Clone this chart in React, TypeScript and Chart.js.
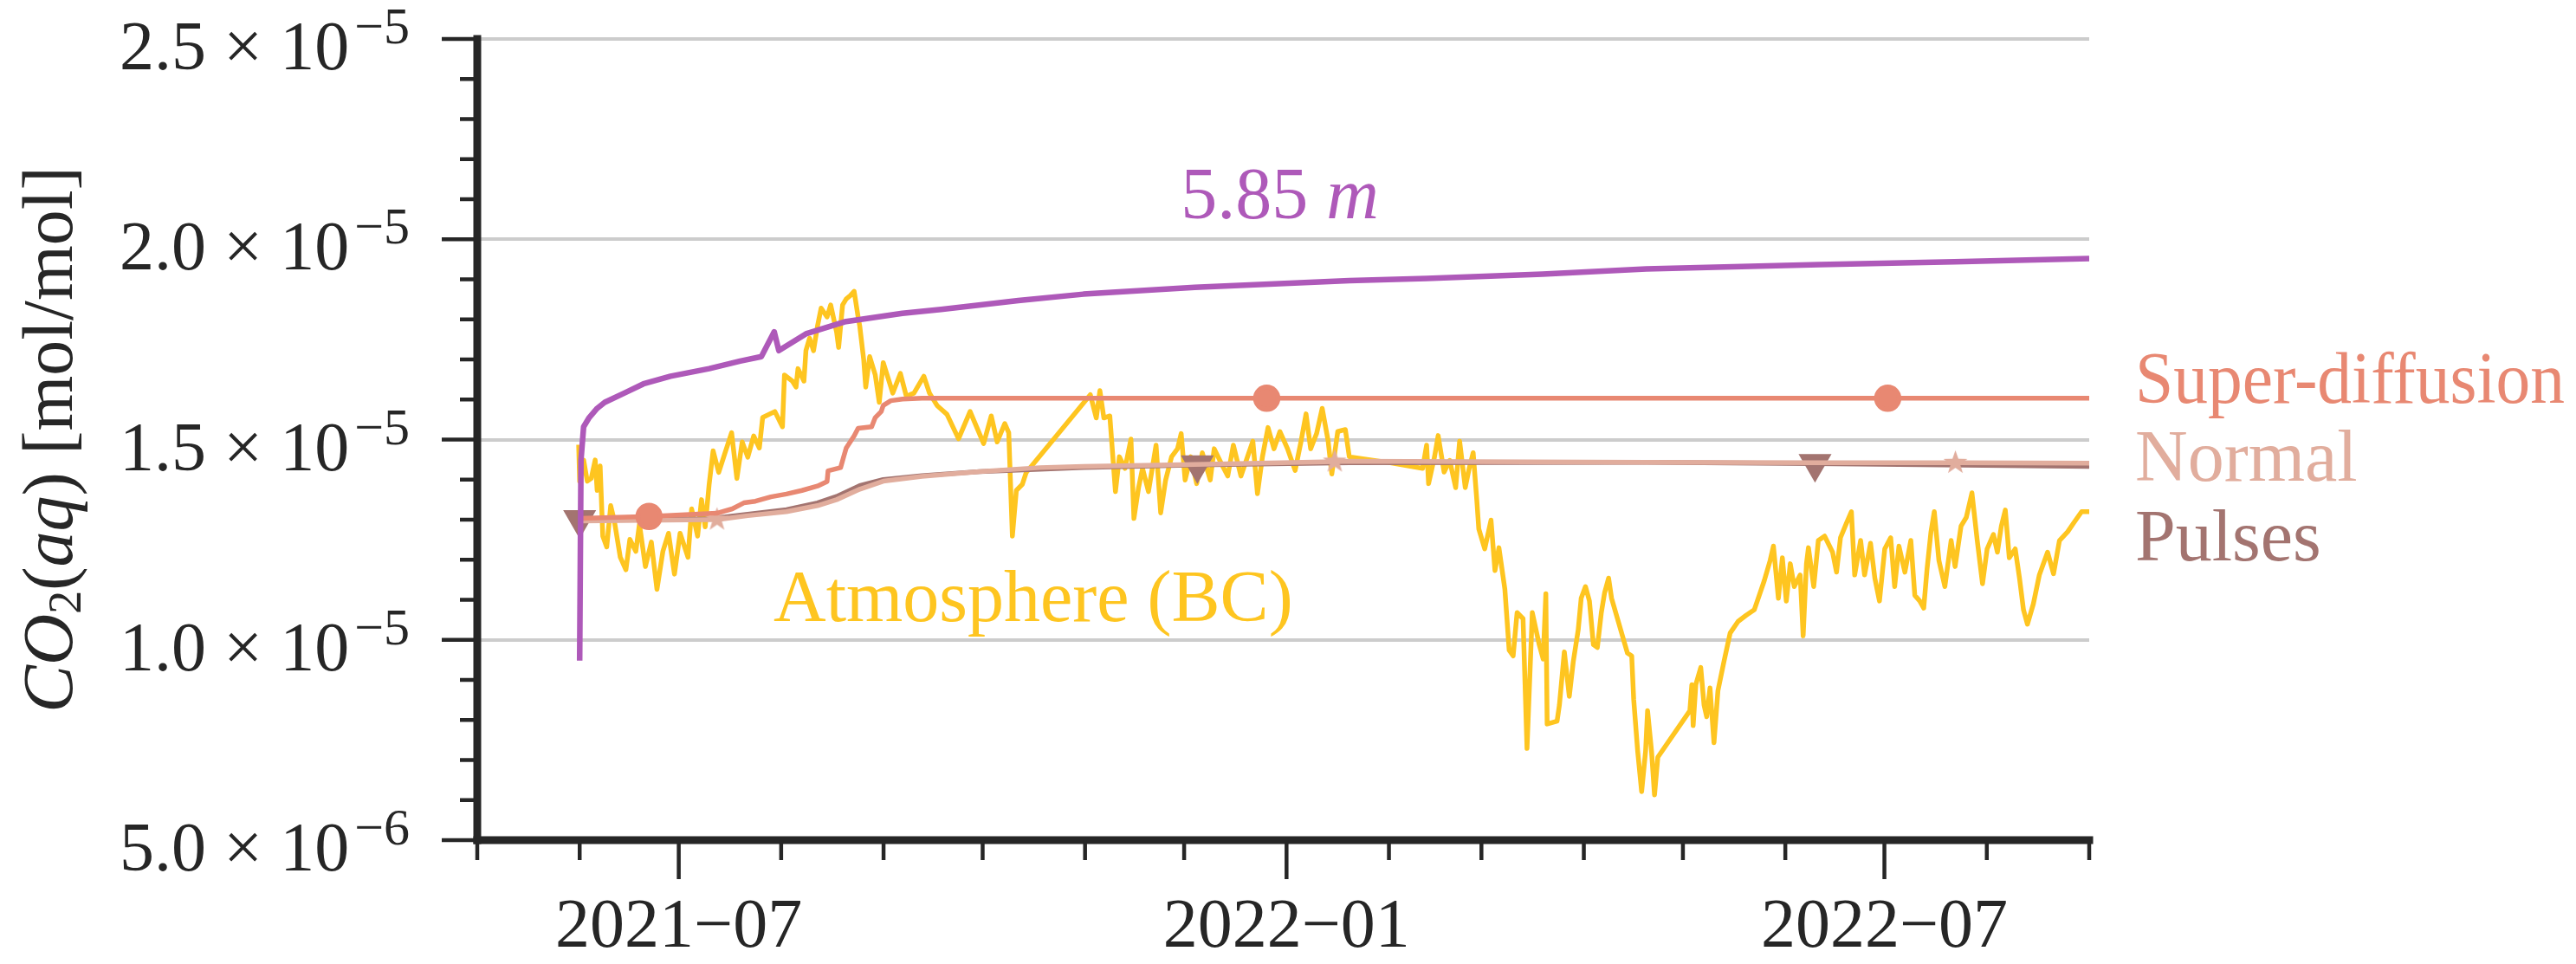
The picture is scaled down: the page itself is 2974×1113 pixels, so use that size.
import React, { useEffect, useRef } from 'react';
import { Chart, registerables } from 'chart.js';

Chart.register(...registerables);

// ---------------- data ----------------
// x values are days since ORIGIN; series values are in units of 1e-6 mol/mol
const ORIGIN = '2021-05-01';
const X_START = '2021-05-01';
const X_END = '2022-09-01';
const UNIT = 1e-6;

// 5.85 m depth series
const depthDays = [31, 31.4, 32.2, 33.9, 36.3, 38.6, 44.5, 50.3, 58.5, 70.2, 79.6, 86, 89.9, 91.3, 99.5, 111.2, 128.7, 140.4, 163.8, 183.5, 217.2, 264, 287.4, 322.5, 353.9, 406.3, 447.2, 488];
const depthVals = [9.48, 14.49, 15.32, 15.55, 15.78, 15.93, 16.16, 16.39, 16.58, 16.77, 16.96, 17.07, 17.69, 17.22, 17.64, 17.94, 18.15, 18.25, 18.47, 18.63, 18.8, 18.97, 19.02, 19.13, 19.26, 19.37, 19.44, 19.52];

// Super-diffusion
const superDays = [31, 52, 72.5, 77.2, 80.7, 84.2, 88.9, 93.6, 98.3, 103, 105.9, 106.2, 110, 110.9, 111.7, 114.1, 115.3, 119.4, 120.5, 122.3, 122.9, 125.2, 128.7, 134.6, 239, 427, 488];
const superVals = [13.03, 13.08, 13.16, 13.27, 13.42, 13.46, 13.57, 13.64, 13.73, 13.84, 13.95, 14.22, 14.3, 14.56, 14.79, 15.09, 15.28, 15.32, 15.55, 15.7, 15.85, 15.97, 16.01, 16.03, 16.03, 16.03, 16.03];
const superMarkers = [52, 239, 427];

// Normal
const normalDays = [31, 70.2, 72.6, 81.9, 93.6, 103, 108.8, 115.8, 122.9, 134.6, 152.1, 170.4, 183.5, 217.2, 259.6, 264, 353.9, 406, 447.5, 488];
const normalVals = [12.97, 13.0, 13.0, 13.1, 13.2, 13.35, 13.5, 13.76, 13.96, 14.08, 14.2, 14.3, 14.33, 14.38, 14.45, 14.46, 14.43, 14.42, 14.42, 14.41];
const normalMarkers = [72.6, 259.6, 447.5];

// Pulses
const pulsesDays = [31, 70.2, 93.6, 103, 108.8, 115.8, 122.9, 134.6, 152.1, 183.5, 218, 264, 354, 405, 488];
const pulsesVals = [13.0, 13.02, 13.25, 13.42, 13.58, 13.85, 14.0, 14.1, 14.2, 14.3, 14.37, 14.42, 14.43, 14.4, 14.33];
const pulsesMarkers = [31, 218, 405];

// Atmosphere (BC)
const atmDays = [
  30.7, 31, 32.2, 33.3, 34.5, 35.7, 36.3, 37.2, 38, 39.2, 40.4, 41.5, 43.3, 45, 46.2, 48, 49.1, 50.9, 52.7, 54.4,
  56.2, 57.9, 59.7, 61.4, 63.8, 64.9, 66.7, 67.9, 69, 70.2, 71.4, 73.1, 74.9, 77, 78.6, 80.2, 81.9, 83.7, 85.4, 86.4,
  90.1, 92.4, 93, 95.4, 96.5, 97.1, 98.9, 99.5, 100.6, 101.8, 103, 104.1, 105.9, 107, 108.8, 109.4, 110.6, 111.7, 112.9, 114.1,
  115.3, 115.8, 117, 117.6, 118.8, 120.5, 121.7, 122.9, 125.8, 128.1, 129.9, 132.2, 135.2, 136.9, 139.2, 142.2, 145.7, 149.2, 151.5, 153.3,
  155.6, 157.4, 159.7, 160.9, 162, 163.2, 165, 166.2,
  185.6, 187.4, 188.5, 189.7, 191.5, 193.2, 194.4, 196.1, 197.9, 198.8, 200.2, 201.4, 203.2, 205.5, 206.9, 208.4, 210.2, 212, 213.1, 214.3,
  216, 217.8, 219.5, 221.9, 223.1, 225.4, 227.2, 228.9, 231.2, 233.6, 234.8, 236.2, 237.7, 239.4, 241.2, 243, 245.3, 247.6, 249.4, 250.9,
  252.3, 254.1, 255.8, 257.6, 258.7, 260.5, 262.8, 264, 275.7, 286.2, 287.4, 288, 289.8, 290.9, 292.7, 294.4, 296.2, 297.4, 299.1, 300.3,
  301.5, 302.6, 303.2, 305, 306.9, 308.1, 309.3, 311.1, 312.4, 313.6, 314.8, 316.6, 317.8, 319.4, 321.5, 322.7, 323.5, 323.9, 326.9, 327.6,
  329.1, 330.6, 331.8, 333.3, 334.2, 335.5, 336.7, 337.9, 339.1, 340.3, 341.3, 342.5, 343.4, 348.2, 349.5, 350.1, 351.3, 352.5, 353.7, 354.3,
  355.5, 356.4, 357.4, 367.1, 367.7, 368.1, 368.9, 370.4, 371.4, 372.2, 373.2, 374.4, 375.6, 377.4, 379.3, 381.7, 384.1, 386.6, 388.4, 389.6,
  391.4, 392.4, 393.9, 395.1, 396.3, 397.5, 398.7, 400.5, 401.4, 402.4, 403, 404.6, 406, 407.9, 410.3, 411.5, 412.7, 414.5, 416, 417,
  418.8, 420, 421.8, 423.1, 424.5, 426.1, 427.9, 429.1, 430.4, 432.2, 434, 435.2, 436.7, 437.9, 438.9, 440.1, 441.1, 442.5, 444.3, 446.2,
  447.4, 449.2, 450.8, 452.5, 454.1, 455.7, 457.1, 459, 460.2, 461.4, 462.6, 463.8, 465.6, 466.9, 468.1, 469.3, 471.1, 472.9, 475.4, 477.2,
  479, 481.5, 483.3, 485.7, 488,
];
const atmVals = [
  14.87, 13.96, 14.49, 13.96, 14.03, 14.49, 13.73, 14.34, 12.59, 12.32, 13.35, 12.97, 12.06, 11.75, 12.51, 12.21, 12.89, 11.83, 12.44, 11.26,
  12.21, 12.66, 11.64, 12.66, 12.06, 13.27, 12.59, 13.5, 12.82, 13.88, 14.72, 14.18, 14.64, 15.17, 14.03, 14.94, 14.56, 15.09, 14.79, 15.55,
  15.7, 15.32, 16.61, 16.46, 16.31, 16.77, 16.46, 17.22, 17.53, 17.22, 17.83, 18.28, 18.06, 18.36, 17.68, 17.3, 18.36, 18.51, 18.59, 18.7,
  18.06, 17.83, 16.99, 16.31, 17.07, 16.61, 15.93, 16.92, 16.16, 16.65, 16.08, 16.16, 16.58, 16.16, 15.85, 15.63, 15.02, 15.7, 15.25, 14.9,
  15.59, 14.94, 15.4, 15.17, 12.59, 13.73, 13.88, 14.18,
  16.12, 15.54, 16.22, 15.54, 15.59, 13.7, 14.57, 14.28, 15.01, 13.03, 13.8, 14.28, 13.7, 14.86, 13.17, 13.99, 14.57, 14.77, 15.15, 13.99,
  14.57, 13.9, 14.67, 13.99, 14.77, 14.38, 14.09, 14.86, 14.09, 14.67, 14.96, 13.65, 14.57, 15.3, 14.77, 15.2, 14.77, 14.23, 14.96, 15.64,
  14.77, 15.15, 15.78, 14.96, 14.14, 15.2, 15.25, 14.57, 14.43, 14.28, 14.86, 13.9, 14.57, 15.1, 14.19, 14.48, 13.8, 14.96, 13.8, 14.28,
  14.67, 13.49, 12.77, 12.27, 12.99, 11.73, 12.3, 11.26, 9.74, 9.6, 10.68, 10.53, 7.29, 10.68, 9.88, 9.52, 11.15, 7.9, 7.97, 8.37,
  9.7, 8.59, 9.45, 10.25, 11.04, 11.33, 10.97, 9.88, 9.81, 10.68, 11.18, 11.54, 11.04, 9.67, 9.6, 8.51, 7.22, 6.21, 7.22, 8.23,
  7.22, 6.13, 7.07, 8.23, 8.88, 7.86, 8.88, 9.31, 8.37, 8.08, 8.8, 7.43, 8.73, 9.45, 10.17, 10.46, 10.61, 10.75, 11.18, 11.47,
  11.98, 12.34, 11.04, 12.05, 10.97, 11.9, 11.33, 11.62, 10.1, 11.9, 12.3, 11.33, 12.48, 12.59, 12.19, 11.69, 12.55, 12.91, 13.2, 11.62,
  12.48, 11.62, 12.41, 11.54, 10.97, 12.27, 12.55, 11.33, 12.34, 11.69, 12.48, 11.11, 10.97, 10.79, 11.76, 12.7, 13.2, 11.98, 11.33, 12.48,
  11.83, 12.84, 13.06, 13.67, 12.48, 11.4, 12.27, 12.63, 12.19, 12.84, 13.24, 12.05, 12.27, 11.54, 10.75, 10.39, 10.9, 11.62, 12.19, 11.65,
  12.48, 12.7, 12.92, 13.2, 13.2,
];

// axis ticks
const Y_MIN = 5e-6;
const Y_MAX = 2.5e-5;
const Y_MAJOR_STEP = 5e-6;
const Y_MINOR_STEP = 1e-6;
const yTickValues = [5e-6, 1e-5, 1.5e-5, 2e-5, 2.5e-5];
const yTickMantissa = ['5.0', '1.0', '1.5', '2.0', '2.5'];
const yTickExponent = ['\u22126', '\u22125', '\u22125', '\u22125', '\u22125'];
const xTickDates = ['2021-07-01', '2022-01-01', '2022-07-01'];
const xTickLabels = ['2021\u221207', '2022\u221201', '2022\u221207'];

// in-plot text labels (anchored in data coordinates: day, value in 1e-6)
const labelTexts = ['Super-diffusion', 'Normal', 'Pulses', 'Atmosphere (BC)'];
const labelDays = [501.9, 501.9, 501.9, 168.3];
const labelVals = [15.92, 13.97, 11.98, 10.47];
const depthLabel = { num: '5.85 ', unit: 'm', day: 243, val: 20.52 };

// ---------------- style ----------------
const W = 2974;
const H = 1113;
const INK = '#262626';
const GRID = '#cccccc';
const PURPLE = '#ae59b9';
const YELLOW = '#fec520';
const SUPER = '#e88872';
const NORMAL = '#e1ad9d';
const PULSES = '#a37470';
const FONT = '"Liberation Serif", "DejaVu Serif", serif';

const dayOf = (s: string) =>
  (Date.parse(s + 'T00:00:00Z') - Date.parse(ORIGIN + 'T00:00:00Z')) / 86400000;

const mk = (days: number[], vals: number[]) => days.map((d, i) => ({ x: d, y: vals[i] * UNIT }));

function makeStar(color: string, R: number, r: number) {
  const c = document.createElement('canvas');
  const s = Math.ceil(2 * R + 2);
  c.width = s;
  c.height = s;
  const g = c.getContext('2d')!;
  g.fillStyle = color;
  g.beginPath();
  for (let i = 0; i < 10; i++) {
    const rad = i % 2 === 0 ? R : r;
    const ang = -Math.PI / 2 + (i * Math.PI) / 5;
    g.lineTo(s / 2 + rad * Math.cos(ang), s / 2 + rad * Math.sin(ang));
  }
  g.closePath();
  g.fill();
  return c;
}

type Run = { t: string; font: string; dy?: number };
function drawRuns(
  ctx: CanvasRenderingContext2D,
  runs: Run[],
  x: number,
  y: number,
  align: 'left' | 'center' | 'right',
  maxWidth?: number
) {
  let total = 0;
  const widths = runs.map((r) => {
    ctx.font = r.font;
    const w = ctx.measureText(r.t).width;
    total += w;
    return w;
  });
  const k = maxWidth && total > maxWidth ? maxWidth / total : 1;
  const tw = total * k;
  let cx = align === 'left' ? x : align === 'center' ? x - tw / 2 : x - tw;
  ctx.textAlign = 'left';
  ctx.textBaseline = 'alphabetic';
  runs.forEach((r, i) => {
    ctx.font = r.font;
    if (k < 1) ctx.fillText(r.t, cx, y + (r.dy || 0), widths[i] * k);
    else ctx.fillText(r.t, cx, y + (r.dy || 0));
    cx += widths[i] * k;
  });
}

const decorPlugin = {
  id: 'decor',
  afterDraw(chart: any) {
    const ctx: CanvasRenderingContext2D = chart.ctx;
    const xs = chart.scales.x;
    const ys = chart.scales.y;
    const a = chart.chartArea;
    ctx.save();

    // spines
    ctx.strokeStyle = INK;
    ctx.lineWidth = 9;
    ctx.lineCap = 'square';
    ctx.beginPath();
    ctx.moveTo(a.left, a.bottom);
    ctx.lineTo(a.left, a.top);
    ctx.stroke();
    ctx.beginPath();
    ctx.moveTo(a.left, a.bottom);
    ctx.lineTo(a.right, a.bottom);
    ctx.stroke();

    // y ticks
    ctx.lineCap = 'butt';
    ctx.lineWidth = 4.5;
    const nY = Math.round((Y_MAX - Y_MIN) / Y_MINOR_STEP);
    const perMajor = Math.round(Y_MAJOR_STEP / Y_MINOR_STEP);
    for (let k = 0; k <= nY; k++) {
      const py = ys.getPixelForValue(Y_MIN + k * Y_MINOR_STEP);
      const len = k % perMajor === 0 ? 41 : 20;
      ctx.beginPath();
      ctx.moveTo(a.left, py);
      ctx.lineTo(a.left - len, py);
      ctx.stroke();
    }
    // x ticks (monthly minor, labelled majors)
    const majorDays = xTickDates.map(dayOf);
    const sd = new Date(X_START + 'T00:00:00Z');
    const endDay = dayOf(X_END);
    for (let m = 0; ; m++) {
      const d = new Date(Date.UTC(sd.getUTCFullYear(), sd.getUTCMonth() + m, 1));
      const iso = d.toISOString().slice(0, 10);
      const day = dayOf(iso);
      if (day > endDay + 0.01) break;
      const px = xs.getPixelForValue(day);
      const len = majorDays.some((md) => Math.abs(md - day) < 0.01) ? 45 : 23;
      ctx.beginPath();
      ctx.moveTo(px, a.bottom);
      ctx.lineTo(px, a.bottom + len);
      ctx.stroke();
    }

    ctx.fillStyle = INK;
    // x tick labels
    ctx.font = `80px ${FONT}`;
    ctx.textAlign = 'center';
    ctx.textBaseline = 'alphabetic';
    xTickDates.forEach((d, i) => {
      ctx.fillText(xTickLabels[i], xs.getPixelForValue(dayOf(d)), a.bottom + 123);
    });

    // y tick labels with exponents
    const expFont = `60px ${FONT}`;
    const mainFont = `80px ${FONT}`;
    const rightEdge = a.left - 78;
    yTickValues.forEach((v, i) => {
      const py = ys.getPixelForValue(v);
      ctx.font = expFont;
      ctx.textAlign = 'right';
      const ew = ctx.measureText(yTickExponent[i]).width;
      ctx.fillText(yTickExponent[i], rightEdge, py + 5);
      ctx.font = mainFont;
      ctx.fillText(`${yTickMantissa[i]} \u00d7 10`, rightEdge - ew - 6, py + 35);
    });

    // y axis title
    ctx.save();
    ctx.translate(a.left - 468, (a.top + a.bottom) / 2);
    ctx.rotate(-Math.PI / 2);
    drawRuns(
      ctx,
      [
        { t: 'CO', font: `italic 82px ${FONT}` },
        { t: '2', font: `54px ${FONT}`, dy: 10 },
        { t: '(', font: `82px ${FONT}` },
        { t: 'aq', font: `italic 82px ${FONT}` },
        { t: ') [mol/mol]', font: `82px ${FONT}` },
      ],
      0,
      0,
      'center'
    );
    ctx.restore();

    // in-plot labels
    const labelColors = [SUPER, NORMAL, PULSES, YELLOW];
    labelTexts.forEach((t, i) => {
      ctx.fillStyle = labelColors[i];
      const px = xs.getPixelForValue(labelDays[i]);
      drawRuns(
        ctx,
        [{ t, font: `84px ${FONT}` }],
        px,
        ys.getPixelForValue(labelVals[i] * UNIT),
        i < 3 ? 'left' : 'center',
        i < 3 ? W - 13 - px : undefined
      );
    });
    ctx.fillStyle = PURPLE;
    drawRuns(
      ctx,
      [
        { t: depthLabel.num, font: `84px ${FONT}` },
        { t: depthLabel.unit, font: `italic 84px ${FONT}` },
      ],
      xs.getPixelForValue(depthLabel.day),
      ys.getPixelForValue(depthLabel.val * UNIT),
      'center'
    );

    ctx.restore();
  },
};

export default function App() {
  const ref = useRef<HTMLCanvasElement>(null);

  useEffect(() => {
    const canvas = ref.current!;
    const star = makeStar(NORMAL, 14.5, 5.8);
    const markerRadius = (list: number[], r: number) => (c: any) => {
      const raw = c.raw;
      return raw && list.some((d) => Math.abs(d - raw.x) < 1e-6) ? r : 0;
    };

    const chart = new Chart(canvas, {
      type: 'line',
      data: {
        datasets: [
          {
            label: 'Atmosphere (BC)',
            data: mk(atmDays, atmVals),
            borderColor: YELLOW,
            backgroundColor: YELLOW,
            borderWidth: 5.5,
            pointRadius: 0,
            order: 5,
          },
          {
            label: 'Pulses',
            data: mk(pulsesDays, pulsesVals),
            borderColor: PULSES,
            backgroundColor: PULSES,
            borderWidth: 5.5,
            pointStyle: 'triangle',
            pointRotation: 180,
            pointRadius: markerRadius(pulsesMarkers, 16.5),
            pointBackgroundColor: PULSES,
            order: 4,
          },
          {
            label: 'Normal',
            data: mk(normalDays, normalVals),
            borderColor: NORMAL,
            backgroundColor: NORMAL,
            borderWidth: 5.5,
            pointStyle: star as any,
            pointRadius: markerRadius(normalMarkers, 14),
            pointBackgroundColor: NORMAL,
            order: 3,
          },
          {
            label: 'Super-diffusion',
            data: mk(superDays, superVals),
            borderColor: SUPER,
            backgroundColor: SUPER,
            borderWidth: 5.5,
            pointStyle: 'circle',
            pointRadius: markerRadius(superMarkers, 13),
            pointBackgroundColor: SUPER,
            order: 2,
          },
          {
            label: '5.85 m',
            data: mk(depthDays, depthVals),
            borderColor: PURPLE,
            backgroundColor: PURPLE,
            borderWidth: 6.5,
            pointRadius: 0,
            order: 1,
          },
        ],
      },
      options: {
        responsive: false,
        animation: false,
        devicePixelRatio: 1,
        events: [],
        layout: { padding: { left: 551, right: W - 2412, top: 45, bottom: H - 970 } },
        plugins: {
          legend: { display: false },
          tooltip: { enabled: false },
          title: { display: false },
        },
        elements: {
          line: { tension: 0, borderJoinStyle: 'round', borderCapStyle: 'butt' },
          point: { borderWidth: 0, hitRadius: 0, hoverRadius: 0 },
        },
        scales: {
          x: {
            type: 'linear',
            min: dayOf(X_START),
            max: dayOf(X_END),
            grid: { display: false, drawTicks: false },
            border: { display: false },
            ticks: { display: false },
            afterFit: (s: any) => {
              s.height = 0;
            },
          },
          y: {
            type: 'linear',
            min: Y_MIN,
            max: Y_MAX,
            grid: { color: GRID, lineWidth: 4, drawTicks: false },
            border: { display: false },
            ticks: { display: false, stepSize: Y_MAJOR_STEP },
            afterFit: (s: any) => {
              s.width = 0;
            },
          },
        },
      } as any,
      plugins: [decorPlugin],
    });
    return () => chart.destroy();
  }, []);

  return (
    <div style={{ position: 'fixed', left: 0, top: 0, width: W, height: H, background: '#ffffff' }}>
      <canvas ref={ref} width={W} height={H} style={{ width: W, height: H, display: 'block' }} />
    </div>
  );
}
